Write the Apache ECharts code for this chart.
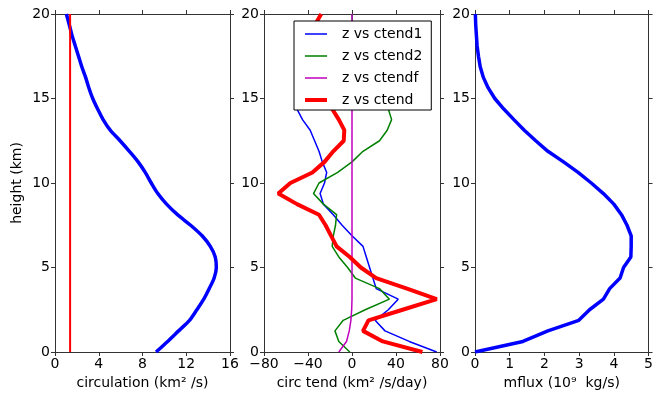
<!DOCTYPE html>
<html>
<head>
<meta charset="utf-8">
<script src="https://cdn.jsdelivr.net/npm/echarts@6/dist/echarts.min.js"></script>
<style>
html,body{margin:0;padding:0;background:#fff;}
#chart{width:656px;height:395px;}
</style>
</head>
<body>
<div id="chart"></div>
<script>
// Heights (km) of model levels
const heights = [0, 0.625, 1.25, 1.875, 2.5, 3.125, 3.75, 4.375, 5.0, 5.625, 6.25, 6.875, 7.5, 8.125, 8.75, 9.375, 10.0, 10.625, 11.25, 11.875, 12.5, 13.125, 13.75, 14.375, 15.0, 15.625, 16.25, 16.875, 17.5, 18.125, 18.75, 19.375, 20.0];

// Panel 1: circulation (km^2/s)
const circulation = [9.24, 10.3, 11.3, 12.3, 12.97, 13.6, 14.1, 14.55, 14.75, 14.65, 14.2, 13.45, 12.4, 11.2, 10.2, 9.4, 8.8, 8.25, 7.6, 6.8, 5.95, 5.05, 4.4, 3.9, 3.45, 3.1, 2.8, 2.45, 2.15, 1.85, 1.55, 1.3, 1.04];
const circRefHeights = [0, 20];
const circRefValues = [1.38, 1.38];

// Panel 2: circulation tendencies (km^2/s/day)
const ctend1 = [77, 52, 30, 21, 33, 42, 22, 19, 16, 13, 10, 0, -9, -17, -26, -29, -25, -23, -27, -30, -34, -38, -45, -50, -52, -52, -50, -47, -43, -39, -35, -34, -28];
const ctend2 = [-2, -12, -15.5, -8, 12, 34, 25, 3, -4, -12, -18, -17, -15, -14, -26, -35, -30, -13, 0, 10, 25, 32, 36, 33, 29, 25, 21, 16, 11, 6, 2, 0.5, 0];
const ctendf = [-12, -5, -2.5, -1, -0.3, 0, 0, 0, 0, 0, 0, 0, 0, 0, 0, 0, 0, 0, 0, 0, 0, 0, 0, 0, 0, 0, 0, 0, 0, 0, 0, 0, 0];
const ctend = [64, 28, 10, 15, 46, 77, 50, 22, 8, -2, -14, -19, -24, -30, -50, -67, -56, -36, -25, -17, -7.5, -7, -12, -18, -23, -27, -29, -31, -32, -33, -33, -33.5, -28];

// Panel 3: mass flux (10^9 kg/s)
const mflux = [0, 1.38, 2.1, 2.99, 3.3, 3.7, 3.88, 4.18, 4.28, 4.49, 4.5, 4.5, 4.38, 4.22, 4.0, 3.7, 3.35, 2.97, 2.55, 2.1, 1.75, 1.42, 1.12, 0.83, 0.57, 0.38, 0.24, 0.15, 0.1, 0.06, 0.04, 0.02, 0.01];

const legendNames = ['z vs ctend1', 'z vs ctend2', 'z vs ctendf', 'z vs ctend'];

const pairs = (vals, hs) => vals.map((v, i) => [v, hs[i]]);
const FONT = 'DejaVu Sans';
const frameColor = '#333';
const minus = v => String(v).replace('-', '\u2212');

const grids = [
  {left: 55, top: 14, width: 175, height: 338},
  {left: 264, top: 14, width: 176, height: 338},
  {left: 475, top: 14, width: 176, height: 338}
];
const xRanges = [
  {min: 0, max: 16, interval: 4, name: 'circulation (km\u00b2 /s)'},
  {min: -80, max: 80, interval: 40, name: 'circ tend (km\u00b2 /s/day)'},
  {min: 0, max: 5, interval: 1, name: 'mflux (10\u2079  kg/s)'}
];

const xAxes = [], yAxes = [];
grids.forEach((g, i) => {
  const r = xRanges[i];
  xAxes.push({
    type: 'value', gridIndex: i, position: 'bottom', min: r.min, max: r.max, interval: r.interval,
    name: r.name, nameLocation: 'middle', nameGap: 22,
    nameTextStyle: {fontFamily: FONT, fontSize: 14, color: '#000'},
    axisLine: {show: true, onZero: false, lineStyle: {color: frameColor, width: 1}},
    axisTick: {show: true, length: 4, lineStyle: {color: frameColor}},
    axisLabel: {fontFamily: FONT, fontSize: 14, color: '#000', margin: 5, formatter: minus},
    splitLine: {show: false}
  });
  xAxes.push({
    type: 'value', gridIndex: i, position: 'top', min: r.min, max: r.max, interval: r.interval,
    axisLine: {show: true, onZero: false, lineStyle: {color: frameColor, width: 1}},
    axisTick: {show: true, length: 4, lineStyle: {color: frameColor}},
    axisLabel: {show: false}, splitLine: {show: false}
  });
  yAxes.push({
    type: 'value', gridIndex: i, position: 'left', min: 0, max: 20, interval: 5,
    name: i === 0 ? 'height (km)' : '', nameLocation: 'middle', nameGap: 31, nameRotate: 90,
    nameTextStyle: {fontFamily: FONT, fontSize: 14, color: '#000'},
    axisLine: {show: true, onZero: false, lineStyle: {color: frameColor, width: 1}},
    axisTick: {show: true, length: 4, lineStyle: {color: frameColor}},
    axisLabel: {fontFamily: FONT, fontSize: 14, color: '#000', margin: 5},
    splitLine: {show: false}
  });
  yAxes.push({
    type: 'value', gridIndex: i, position: 'right', min: 0, max: 20, interval: 5,
    axisLine: {show: true, onZero: false, lineStyle: {color: frameColor, width: 1}},
    axisTick: {show: true, length: 4, lineStyle: {color: frameColor}},
    axisLabel: {show: false}, splitLine: {show: false}
  });
});

const lineSeries = (name, data, xi, yi, color, width, smooth) => ({
  name, type: 'line', xAxisIndex: xi, yAxisIndex: yi, data,
  showSymbol: false, symbol: 'none', animation: false, silent: true,
  smooth: smooth || false,
  lineStyle: {color, width}, itemStyle: {color}
});

const series = [
  lineSeries('circ', pairs(circulation, heights), 0, 0, '#0000ff', 3.5, 0.3),
  lineSeries('circref', pairs(circRefValues, circRefHeights), 0, 0, '#ff0000', 2),
  lineSeries(legendNames[0], pairs(ctend1, heights), 2, 2, '#0000ff', 1.5),
  lineSeries(legendNames[1], pairs(ctend2, heights), 2, 2, '#008000', 1.5),
  lineSeries(legendNames[2], pairs(ctendf, heights), 2, 2, '#bf00bf', 1.5),
  lineSeries(legendNames[3], pairs(ctend, heights), 2, 2, '#ff0000', 4),
  lineSeries('mflux', pairs(mflux, heights), 4, 4, '#0000ff', 3.5)
];

const thin = 'path://M0,0H22V1.5H0Z';
const thick = 'path://M0,0H22V4H0Z';

const chart = echarts.init(document.getElementById('chart'), null, {renderer: 'canvas'});
chart.setOption({
  animation: false,
  backgroundColor: '#fff',
  grid: grids,
  xAxis: xAxes,
  yAxis: yAxes,
  legend: {
    data: [
      {name: legendNames[0], icon: thin},
      {name: legendNames[1], icon: thin},
      {name: legendNames[2], icon: thin},
      {name: legendNames[3], icon: thick}
    ],
    orient: 'vertical', left: 294, top: 21,
    itemWidth: 22, itemHeight: 14, itemGap: 8,
    padding: [6, 9, 3, 11],
    backgroundColor: '#fff', borderColor: '#000', borderWidth: 1,
    selectedMode: false,
    textStyle: {fontFamily: FONT, fontSize: 14, color: '#000', padding: [0, 0, 0, 10]}
  },
  series
});
</script>
</body>
</html>
